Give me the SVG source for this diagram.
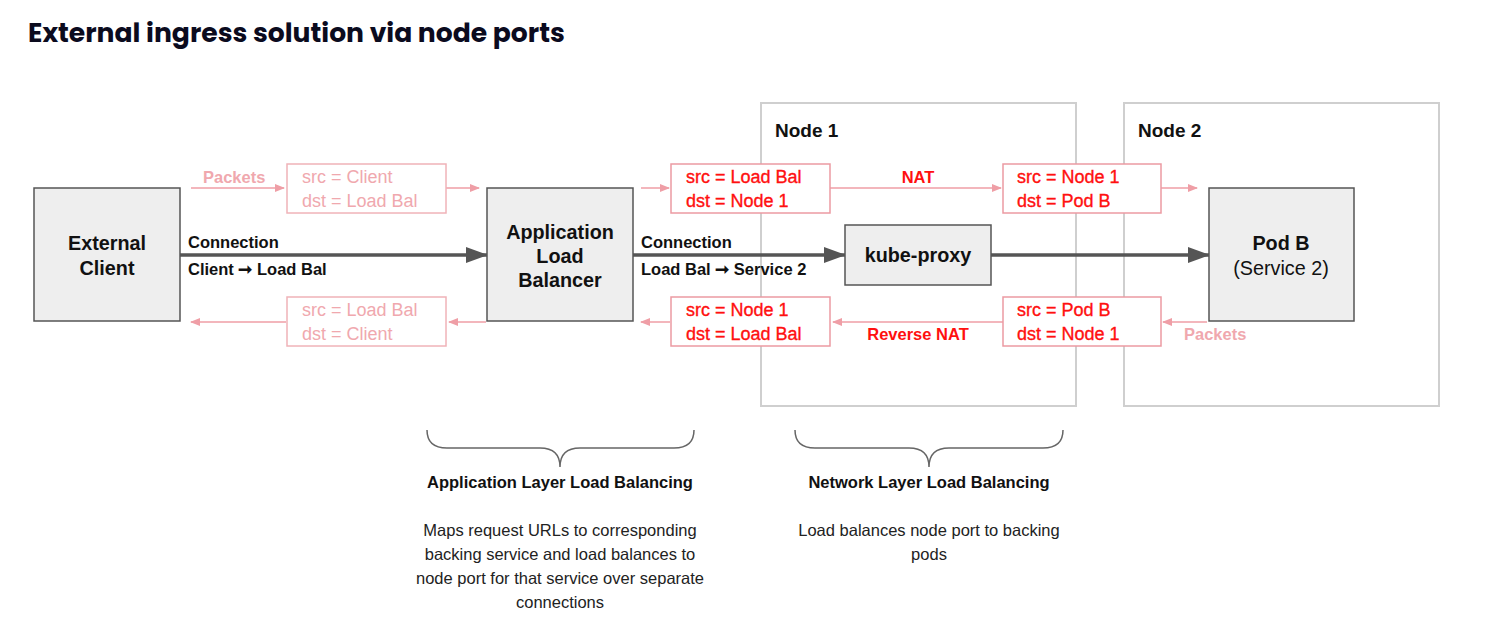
<svg xmlns="http://www.w3.org/2000/svg" width="1507" height="620" viewBox="0 0 1507 620">
<defs>
<style>
text{font-family:"Liberation Sans",Arial,sans-serif;}
.title{font-family:Poppins,Inter,"Liberation Sans",sans-serif;font-weight:700;font-size:26.6px;fill:#0b0b1e;}
.box{fill:#eeeeee;stroke:#555;stroke-width:1.5;}
.frame{fill:#fff;stroke:#cfcfcf;stroke-width:2;}
.bl{font-size:19.8px;font-weight:700;fill:#111;text-anchor:middle;}
.nl{font-size:19px;font-weight:700;fill:#111;}
.lbl{font-size:16.5px;font-weight:700;fill:#111;}
.pbox{fill:#fff;stroke:#f0b3b8;stroke-width:1.5;}
.rbox{fill:#fff;stroke:#ec9aa2;stroke-width:1.5;}
.pt{font-size:18px;fill:#f0a8ae;}
.ptb{font-size:16.5px;fill:#f0a8ae;font-weight:700;}
.rt{font-size:18px;fill:#ff1010;stroke:#ff1010;stroke-width:0.35;}
.rtb{font-size:16.5px;fill:#ff1010;font-weight:700;}
.pl{stroke:#ef9ea6;stroke-width:1.5;fill:none;}
.dl{stroke:#555;stroke-width:3.5;fill:none;}
.brace{stroke:#666;stroke-width:1.5;fill:none;}
.hd{font-size:16.5px;font-weight:700;fill:#111;text-anchor:middle;}
.ds{font-size:16.5px;fill:#222;text-anchor:middle;}
</style>
<marker id="pa" markerWidth="10" markerHeight="8" refX="9" refY="4" orient="auto" markerUnits="userSpaceOnUse">
<path d="M0,0 L10,4 L0,8 Z" fill="#ef9ea6"/>
</marker>
<marker id="da" markerWidth="22" markerHeight="16" refX="21" refY="8" orient="auto" markerUnits="userSpaceOnUse">
<path d="M0,0 L22,8 L0,16 Z" fill="#555"/>
</marker>
</defs>
<rect width="1507" height="620" fill="#fff"/>
<text class="title" x="28" y="42">External ingress solution via node ports</text>

<g id="node1">
<rect class="frame" x="761" y="103" width="315" height="303"/>
<text class="nl" x="775" y="137">Node 1</text>
</g>
<g id="node2">
<rect class="frame" x="1124" y="103" width="315" height="303"/>
<text class="nl" x="1138" y="137">Node 2</text>
</g>

<g id="connectors">
<line class="pl" x1="191" y1="188" x2="284" y2="188" marker-end="url(#pa)"/>
<line class="pl" x1="446" y1="188" x2="479" y2="188" marker-end="url(#pa)"/>
<line class="pl" x1="286" y1="322" x2="191" y2="322" marker-end="url(#pa)"/>
<line class="pl" x1="486" y1="322" x2="449" y2="322" marker-end="url(#pa)"/>
<line class="pl" x1="641" y1="188" x2="669" y2="188" marker-end="url(#pa)"/>
<line class="pl" x1="830" y1="188" x2="1001" y2="188" marker-end="url(#pa)"/>
<line class="pl" x1="1161" y1="188" x2="1197" y2="188" marker-end="url(#pa)"/>
<line class="pl" x1="670" y1="322" x2="641" y2="322" marker-end="url(#pa)"/>
<line class="pl" x1="1003" y1="322" x2="833" y2="322" marker-end="url(#pa)"/>
<line class="pl" x1="1207" y1="322" x2="1163" y2="322" marker-end="url(#pa)"/>
<line class="dl" x1="180" y1="255" x2="487" y2="255" marker-end="url(#da)"/>
<line class="dl" x1="633" y1="255" x2="845" y2="255" marker-end="url(#da)"/>
<line class="dl" x1="991" y1="255" x2="1209" y2="255" marker-end="url(#da)"/>
</g>

<g id="labels">
<text class="ptb" x="203" y="183">Packets</text>
<text class="lbl" x="188" y="248">Connection</text>
<text class="lbl" x="188" y="275" font-size="17">Client ➞ Load Bal</text>
<text class="lbl" x="641" y="248">Connection</text>
<text class="lbl" x="641" y="275" font-size="17">Load Bal ➞ Service 2</text>
<text class="rtb" x="918" y="183" text-anchor="middle">NAT</text>
<text class="rtb" x="918" y="340" text-anchor="middle">Reverse NAT</text>
<text class="ptb" x="1184" y="340">Packets</text>
</g>

<g id="external-client">
<rect class="box" x="34" y="188" width="146" height="133"/>
<text class="bl" x="107" y="250">External</text>
<text class="bl" x="107" y="275">Client</text>
</g>

<g id="app-lb">
<rect class="box" x="487" y="188" width="146" height="133"/>
<text class="bl" x="560" y="239">Application</text>
<text class="bl" x="560" y="263">Load</text>
<text class="bl" x="560" y="287">Balancer</text>
</g>

<g id="kube-proxy">
<rect class="box" x="845" y="225" width="146" height="60"/>
<text class="bl" x="918" y="262">kube-proxy</text>
</g>

<g id="pod-b">
<rect class="box" x="1209" y="188" width="145" height="133"/>
<text class="bl" x="1281" y="250">Pod B</text>
<text x="1281" y="275" font-size="19.8" fill="#111" text-anchor="middle">(Service 2)</text>
</g>

<g id="pkt-client-lb">
<rect class="pbox" x="287" y="164" width="159" height="49"/>
<text class="pt" x="302" y="183">src = Client</text>
<text class="pt" x="302" y="207">dst = Load Bal</text>
</g>
<g id="pkt-lb-client">
<rect class="pbox" x="287" y="297" width="159" height="49"/>
<text class="pt" x="302" y="316">src = Load Bal</text>
<text class="pt" x="302" y="340">dst = Client</text>
</g>
<g id="pkt-lb-node1">
<rect class="rbox" x="671" y="164" width="159" height="49"/>
<text class="rt" x="686" y="183">src = Load Bal</text>
<text class="rt" x="686" y="207">dst = Node 1</text>
</g>
<g id="pkt-node1-lb">
<rect class="rbox" x="671" y="297" width="159" height="49"/>
<text class="rt" x="686" y="316">src = Node 1</text>
<text class="rt" x="686" y="340">dst = Load Bal</text>
</g>
<g id="pkt-node1-podb">
<rect class="rbox" x="1003" y="164" width="158" height="49"/>
<text class="rt" x="1017" y="183">src = Node 1</text>
<text class="rt" x="1017" y="207">dst = Pod B</text>
</g>
<g id="pkt-podb-node1">
<rect class="rbox" x="1003" y="297" width="158" height="49"/>
<text class="rt" x="1017" y="316">src = Pod B</text>
<text class="rt" x="1017" y="340">dst = Node 1</text>
</g>

<g id="app-layer">
<path class="brace" d="M427,430 Q427,448 447,448 L540,448 Q560,448 560,467 Q560,448 580,448 L674,448 Q694,448 694,430"/>
<text class="hd" x="560" y="488">Application Layer Load Balancing</text>
<text class="ds" x="560" y="536">Maps request URLs to corresponding</text>
<text class="ds" x="560" y="560">backing service and load balances to</text>
<text class="ds" x="560" y="584">node port for that service over separate</text>
<text class="ds" x="560" y="608">connections</text>
</g>

<g id="network-layer">
<path class="brace" d="M795,430 Q795,448 815,448 L909,448 Q929,448 929,467 Q929,448 949,448 L1043,448 Q1063,448 1063,430"/>
<text class="hd" x="929" y="488">Network Layer Load Balancing</text>
<text class="ds" x="929" y="536">Load balances node port to backing</text>
<text class="ds" x="929" y="560">pods</text>
</g>
</svg>
